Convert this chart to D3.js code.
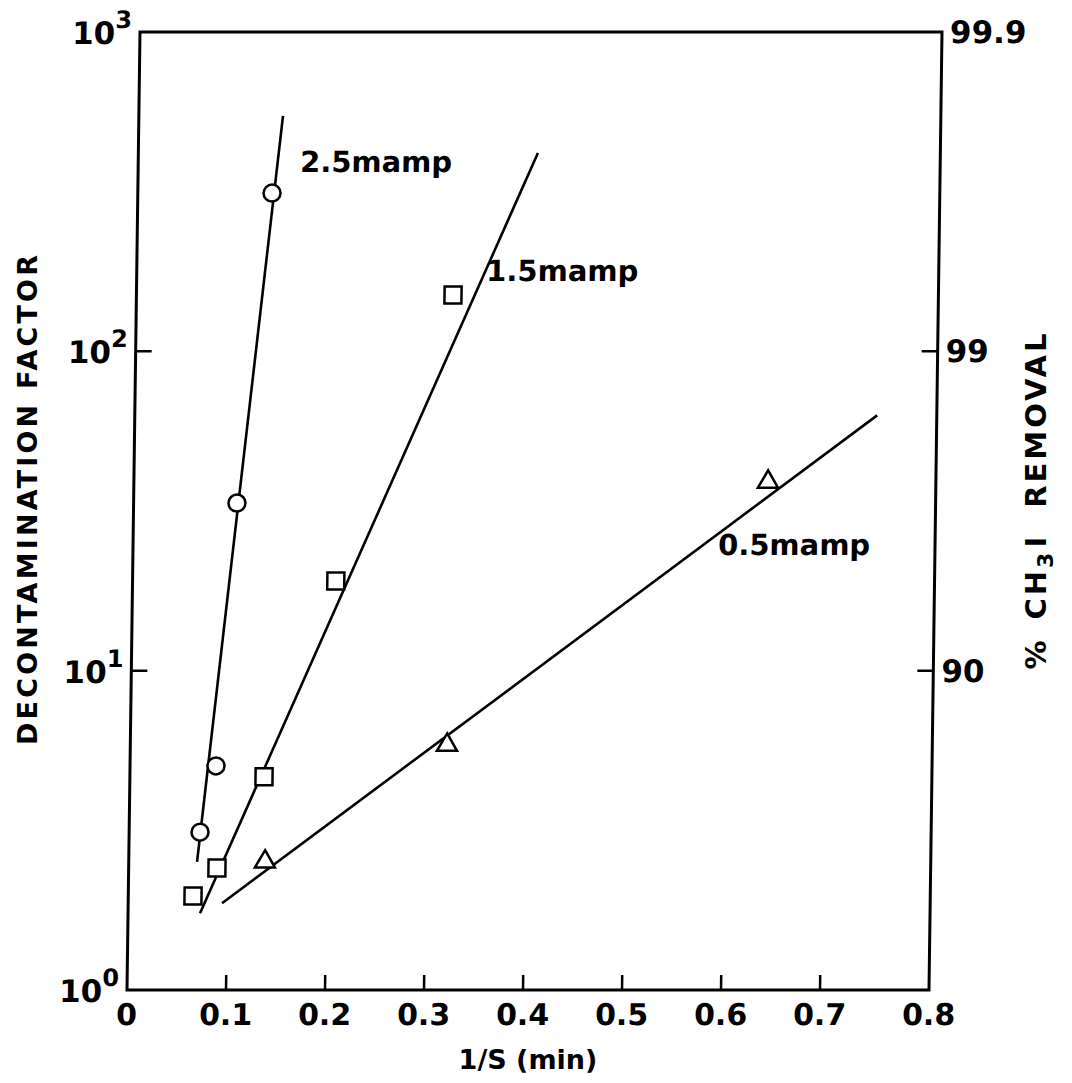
<!DOCTYPE html>
<html>
<head>
<meta charset="utf-8">
<script src="https://cdn.jsdelivr.net/npm/d3@7"></script>
<style>
  body { margin: 0; background: #fff; }
  text { font-family: "DejaVu Sans", "Liberation Sans", sans-serif; font-weight: bold; fill: #000; }
</style>
</head>
<body>
<svg id="chart" width="1072" height="1083"></svg>
<script>
// tick values and labels
const xTicks = [0, 0.1, 0.2, 0.3, 0.4, 0.5, 0.6, 0.7, 0.8];
const xTickLabels = ['0', '0.1', '0.2', '0.3', '0.4', '0.5', '0.6', '0.7', '0.8'];
const yTicks = [1, 10, 100, 1000];
const yTickExp = ['0', '1', '2', '3'];
const rightTicks = [10, 100, 1000];
const rightTickLabels = ['90', '99', '99.9'];

// 2.5 mamp (circles)
const circX = [0.1356, 0.1044, 0.0868, 0.0716];
const circY = [313, 33.5, 5.03, 3.12];
const lineCircX = [0.069, 0.1456];
const lineCircY = [2.52, 546];

// 1.5 mamp (squares)
const sqX = [0.3198, 0.2053, 0.1355, 0.0892, 0.0654];
const sqY = [150, 19.1, 4.65, 2.41, 1.97];
const lineSqX = [0.0727, 0.4036];
const lineSqY = [1.74, 418];

// 0.5 mamp (triangles)
const triX = [0.6405, 0.3199, 0.1376];
const triY = [39.0, 5.85, 2.52];
const lineTriX = [0.0948, 0.7453];
const lineTriY = [1.87, 63];

const seriesNames = ['2.5mamp', '1.5mamp', '0.5mamp'];
const labelX = [0.1635, 0.353, 0.591];
const labelY = [364, 166, 23.0];

let svg = d3.select('#chart');

// scan is slightly sheared, so the plot group is skewed about the bottom edge
let plotBottom = 990, plotTop = 32;
let plot = svg.append('g')
  .attr('transform', `translate(0,${plotBottom}) skewX(-0.777) translate(0,${-plotBottom})`);

// 1. scales
let xScale = d3.scaleLinear().domain([0, 0.7, 0.8]).range([127, 820, 929]);
let yScale = d3.scaleLog().domain([1, 1000]).range([plotBottom, plotTop]);

// 2. frame
plot.append('rect')
  .attr('x', xScale(0))
  .attr('y', yScale(1000))
  .attr('width', xScale(0.8) - xScale(0))
  .attr('height', yScale(1) - yScale(1000))
  .attr('fill', 'none')
  .attr('stroke', '#000')
  .attr('stroke-width', 3);

// 3. x ticks and labels
plot.selectAll('.xtick')
  .data(xTicks.slice(1, -1))
  .enter()
  .append('line')
  .attr('x1', d => xScale(d)).attr('x2', d => xScale(d))
  .attr('y1', plotBottom).attr('y2', plotBottom - 15)
  .attr('stroke', '#000').attr('stroke-width', 2.5);

plot.selectAll('.xlab')
  .data(xTicks)
  .enter()
  .append('text')
  .attr('x', d => xScale(d))
  .attr('y', plotBottom + 35)
  .attr('text-anchor', 'middle')
  .attr('font-size', 30)
  .text((d, i) => xTickLabels[i]);

// 4. left y ticks and labels
plot.selectAll('.ytick')
  .data(yTicks.slice(1, -1))
  .enter()
  .append('line')
  .attr('x1', xScale(0)).attr('x2', xScale(0) + 16)
  .attr('y1', d => yScale(d)).attr('y2', d => yScale(d))
  .attr('stroke', '#000').attr('stroke-width', 2.5);

let ylab = plot.selectAll('.ylab')
  .data(yTicks)
  .enter()
  .append('text')
  .attr('x', xScale(0) - 8)
  .attr('y', d => yScale(d) + 12)
  .attr('text-anchor', 'end')
  .attr('font-size', 31);
ylab.append('tspan').text('10');
ylab.append('tspan')
  .attr('font-size', 24)
  .attr('dy', -16)
  .text((d, i) => yTickExp[i]);

// 5. right ticks and labels
plot.selectAll('.rtick')
  .data(rightTicks.slice(0, -1))
  .enter()
  .append('line')
  .attr('x1', xScale(0.8)).attr('x2', xScale(0.8) - 16)
  .attr('y1', d => yScale(d)).attr('y2', d => yScale(d))
  .attr('stroke', '#000').attr('stroke-width', 2.5);

plot.selectAll('.rlab')
  .data(rightTicks)
  .enter()
  .append('text')
  .attr('x', xScale(0.8) + 8)
  .attr('y', d => yScale(d) + 11)
  .attr('font-size', 31)
  .text((d, i) => rightTickLabels[i]);

// 6. fitted lines
let line = d3.line().x(d => xScale(d[0])).y(d => yScale(d[1]));
[[lineCircX, lineCircY], [lineSqX, lineSqY], [lineTriX, lineTriY]].forEach(([xs, ys]) => {
  plot.append('path')
    .attr('d', line(xs.map((x, i) => [x, ys[i]])))
    .attr('fill', 'none')
    .attr('stroke', '#000')
    .attr('stroke-width', 2.6);
});

// 7. markers
plot.selectAll('.circ')
  .data(circX.map((x, i) => [x, circY[i]]))
  .enter()
  .append('circle')
  .attr('cx', d => xScale(d[0]))
  .attr('cy', d => yScale(d[1]))
  .attr('r', 8.5)
  .attr('fill', '#fff')
  .attr('stroke', '#000')
  .attr('stroke-width', 2.5);

plot.selectAll('.sq')
  .data(sqX.map((x, i) => [x, sqY[i]]))
  .enter()
  .append('rect')
  .attr('x', d => xScale(d[0]) - 8.5)
  .attr('y', d => yScale(d[1]) - 8.5)
  .attr('width', 17)
  .attr('height', 17)
  .attr('fill', '#fff')
  .attr('stroke', '#000')
  .attr('stroke-width', 2.5);

plot.selectAll('.tri')
  .data(triX.map((x, i) => [x, triY[i]]))
  .enter()
  .append('path')
  .attr('transform', d => `translate(${xScale(d[0])},${yScale(d[1])})`)
  .attr('d', d3.symbol().type(d3.symbolTriangle).size(175))
  .attr('fill', '#fff')
  .attr('stroke', '#000')
  .attr('stroke-width', 2.5);

// 8. series labels
plot.selectAll('.slab')
  .data(seriesNames)
  .enter()
  .append('text')
  .attr('x', (d, i) => xScale(labelX[i]))
  .attr('y', (d, i) => yScale(labelY[i]))
  .attr('font-size', 29)
  .text(d => d);

// 9. axis titles
svg.append('text')
  .attr('transform', 'translate(27,500) rotate(-90)')
  .attr('text-anchor', 'middle')
  .attr('dominant-baseline', 'central')
  .attr('font-size', 27)
  .attr('textLength', 490)
  .attr('lengthAdjust', 'spacing')
  .text('DECONTAMINATION FACTOR');

let rt = svg.append('text')
  .attr('transform', 'translate(1036,500) rotate(-90)')
  .attr('text-anchor', 'middle')
  .attr('dominant-baseline', 'central')
  .attr('font-size', 29)
  .attr('letter-spacing', 3);
rt.append('tspan').text('%');
rt.append('tspan').attr('dx', 18).text('CH');
rt.append('tspan').attr('font-size', 22).attr('dy', 9).text('3');
rt.append('tspan').attr('dy', -9).attr('dx', 2).text('I');
rt.append('tspan').attr('dx', 26).text('REMOVAL');

svg.append('text')
  .attr('x', 528)
  .attr('y', 1069)
  .attr('text-anchor', 'middle')
  .attr('font-size', 27)
  .text('1/S (min)');
</script>
</body>
</html>
